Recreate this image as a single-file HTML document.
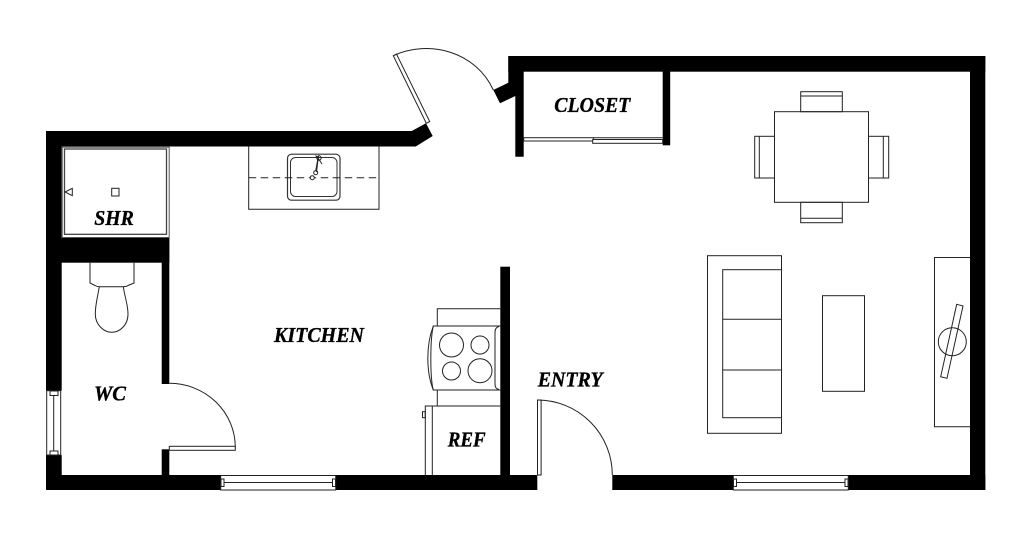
<!DOCTYPE html>
<html>
<head>
<meta charset="utf-8">
<style>
html,body{margin:0;padding:0;background:#fff;width:1024px;height:547px;overflow:hidden}
svg{display:block}
text{font-family:"Liberation Serif",serif;font-weight:bold;font-style:italic;font-size:21px;fill:#000;stroke:#000;stroke-width:.35}
.l{fill:none;stroke:#222;stroke-width:1}
.w{fill:#fff;stroke:#222;stroke-width:1}
</style>
</head>
<body>
<svg width="1024" height="547" viewBox="0 0 1024 547" xmlns="http://www.w3.org/2000/svg">
<!-- walls -->
<g fill="#000">
<polygon points="46,131 411.7,131 426,123.3 432.7,136 415.7,146.5 61.7,146.5 61.7,390.5 46,390.5"/>
<rect x="46" y="455" width="15.7" height="35"/>
<rect x="46" y="475" width="174.7" height="15"/>
<rect x="335.7" y="475" width="201.6" height="15"/>
<rect x="612.3" y="475" width="121" height="15"/>
<rect x="848.3" y="475" width="137" height="15"/>
<rect x="970" y="56" width="15.3" height="434"/>
<rect x="508.3" y="56" width="477" height="15.7"/>
<polygon points="508.3,56 523.7,56 523.7,156.7 515.3,156.7 515.3,96 500,103.3 493.3,90 508.3,82.7"/>
<rect x="662.7" y="71" width="7.5" height="74.3"/>
<rect x="61" y="237.7" width="108.3" height="25"/>
<rect x="161.7" y="237.7" width="7.6" height="146.3"/>
<rect x="161.7" y="449.3" width="7.6" height="26"/>
<rect x="500.3" y="266.7" width="9.7" height="209"/>
</g>
<!-- north door -->
<polygon class="w" points="393.3,55.7 396.5,54 429.7,121.5 426.3,123.3"/>
<path class="l" d="M393.3,55.7 C430,39 476,52 493.3,90"/>
<!-- closet -->
<rect class="w" x="523.7" y="137.7" width="69.6" height="3.3"/>
<rect class="w" x="592.7" y="139.5" width="70" height="3.8"/>
<line class="l" x1="593" y1="137.7" x2="662.7" y2="137.7"/>
<!-- shower -->
<rect x="62.2" y="147.2" width="107" height="90.3" fill="none" stroke="#555" stroke-width="1"/>
<rect x="64.5" y="149" width="102" height="85.3" fill="none" stroke="#444" stroke-width="1.3"/>
<rect class="l" x="111.7" y="188.3" width="7.3" height="7.7"/>
<polygon class="l" points="65,192 72.3,188.3 72.3,195.7"/>
<!-- toilet -->
<path class="l" d="M90,262.7 V283 L95,285.5 Q97,286.7 100,286.7 H122 Q126,286.7 128,285.5 L134,283 V262.7"/>
<path class="l" d="M99.3,286.7 C97,300 95.3,305 95.3,314 C95.3,325 104,332.3 111.7,332.3 C120,332.3 128,325 128,314 C128,305 125,298 123.3,286.7"/>
<!-- left window -->
<rect class="w" x="46.7" y="390.7" width="14" height="64.3"/>
<line class="l" x1="53.7" y1="395.5" x2="53.7" y2="451"/>
<rect class="l" x="50" y="391" width="8" height="4.5"/>
<rect class="l" x="50" y="451" width="8" height="4"/>
<!-- WC door -->
<rect class="w" x="169.3" y="446.3" width="66" height="4"/>
<path class="l" d="M169.3,383.3 A66,64 0 0 1 235.3,447.3"/>
<!-- bottom windows -->
<g>
<rect class="w" x="220.7" y="475.5" width="115" height="14.5"/>
<line class="l" x1="224" y1="482.5" x2="332.5" y2="482.5"/>
<rect class="l" x="221" y="479" width="3" height="7.5"/>
<rect class="l" x="332.5" y="479" width="3" height="7.5"/>
<rect class="w" x="733.3" y="475.5" width="115" height="14.5"/>
<line class="l" x1="736.5" y1="482.5" x2="845" y2="482.5"/>
<rect class="l" x="733.5" y="479" width="3" height="7.5"/>
<rect class="l" x="845" y="479" width="3" height="7.5"/>
</g>
<!-- counter + sink -->
<path class="l" d="M248.7,146.5 V209.3 H379 V146.5"/>
<rect x="287.5" y="154.2" width="52.5" height="46" rx="4" fill="none" stroke="#333" stroke-width="1.2"/>
<rect x="290.5" y="157.5" width="46.5" height="39" rx="5" fill="none" stroke="#333" stroke-width="1"/>
<line x1="248.7" y1="177.7" x2="379" y2="177.7" stroke="#222" stroke-width="1" stroke-dasharray="7.5,4.5"/>
<circle class="w" cx="312.3" cy="177.7" r="2"/>
<circle class="w" cx="315.7" cy="172.7" r="2"/>
<path class="l" d="M315.7,171 L318,158 L322,164 M318,158 L315.5,155.5 M316.5,172 L318.5,156"/>
<circle class="l" cx="319" cy="158" r="2.2"/>
<!-- range -->
<path class="l" d="M437.3,326 V308.7 H500.3"/>
<path class="l" d="M500.3,326 H433.3 C430,340 430,378 433.3,390 H500.3"/>
<path class="l" d="M433.3,326 C426,345 426,372 433.3,390"/>
<path class="l" d="M499,326.5 Q495,327.5 495,332 V384 Q495,389 499,389.5"/>
<circle class="l" cx="451.5" cy="345" r="12"/>
<circle class="l" cx="480" cy="345" r="9"/>
<circle class="l" cx="451.5" cy="371" r="9"/>
<circle class="l" cx="480" cy="370.7" r="12"/>
<line class="l" x1="437.3" y1="390" x2="437.3" y2="406"/>
<!-- fridge -->
<path class="l" d="M500.3,406 H425.3 V475 M432.3,406 V475"/>
<rect class="l" x="422.5" y="411.7" width="2.8" height="6"/>
<!-- entry door -->
<rect class="w" x="537.5" y="400" width="3.6" height="75"/>
<path class="l" d="M537.5,400 A75,75 0 0 1 612.3,475"/>
<!-- dining -->
<rect class="l" x="774.5" y="111.7" width="94" height="90.6"/>
<rect class="l" x="800.7" y="91.7" width="41.6" height="20"/>
<line class="l" x1="800.7" y1="96" x2="842.3" y2="96"/>
<rect class="l" x="800.7" y="202.3" width="41.6" height="20.4"/>
<line class="l" x1="800.7" y1="218.3" x2="842.3" y2="218.3"/>
<rect class="l" x="754.7" y="136.3" width="19.8" height="41.7"/>
<line class="l" x1="759.3" y1="136.3" x2="759.3" y2="178"/>
<rect class="l" x="868.5" y="136.3" width="20.2" height="41.7"/>
<line class="l" x1="883.3" y1="136.3" x2="883.3" y2="178"/>
<!-- sofa -->
<rect class="l" x="707.5" y="255.7" width="74" height="177.6"/>
<rect class="l" x="722.7" y="269.7" width="58.8" height="148"/>
<line class="l" x1="722.7" y1="319.3" x2="781.5" y2="319.3"/>
<line class="l" x1="722.7" y1="370" x2="781.5" y2="370"/>
<!-- coffee table -->
<rect class="l" x="822.5" y="295.7" width="42" height="95.6"/>
<!-- TV -->
<path class="l" d="M970,257.5 H934.5 V426.7 H970"/>
<circle class="l" cx="952.3" cy="341.7" r="14"/>
<polygon class="l" points="956.7,304.3 963,306 947,378.3 940.7,376.7"/>
<!-- labels -->
<text x="554.3" y="112" textLength="76" lengthAdjust="spacingAndGlyphs">CLOSET</text>
<text x="94.3" y="225" textLength="39.5" lengthAdjust="spacingAndGlyphs">SHR</text>
<text x="274" y="342" textLength="90" lengthAdjust="spacingAndGlyphs">KITCHEN</text>
<text x="94" y="400.7" textLength="32" lengthAdjust="spacingAndGlyphs">WC</text>
<text x="447.7" y="446.7" textLength="38" lengthAdjust="spacingAndGlyphs">REF</text>
<text x="537.7" y="386.7" textLength="65" lengthAdjust="spacingAndGlyphs">ENTRY</text>
</svg>
</body>
</html>
